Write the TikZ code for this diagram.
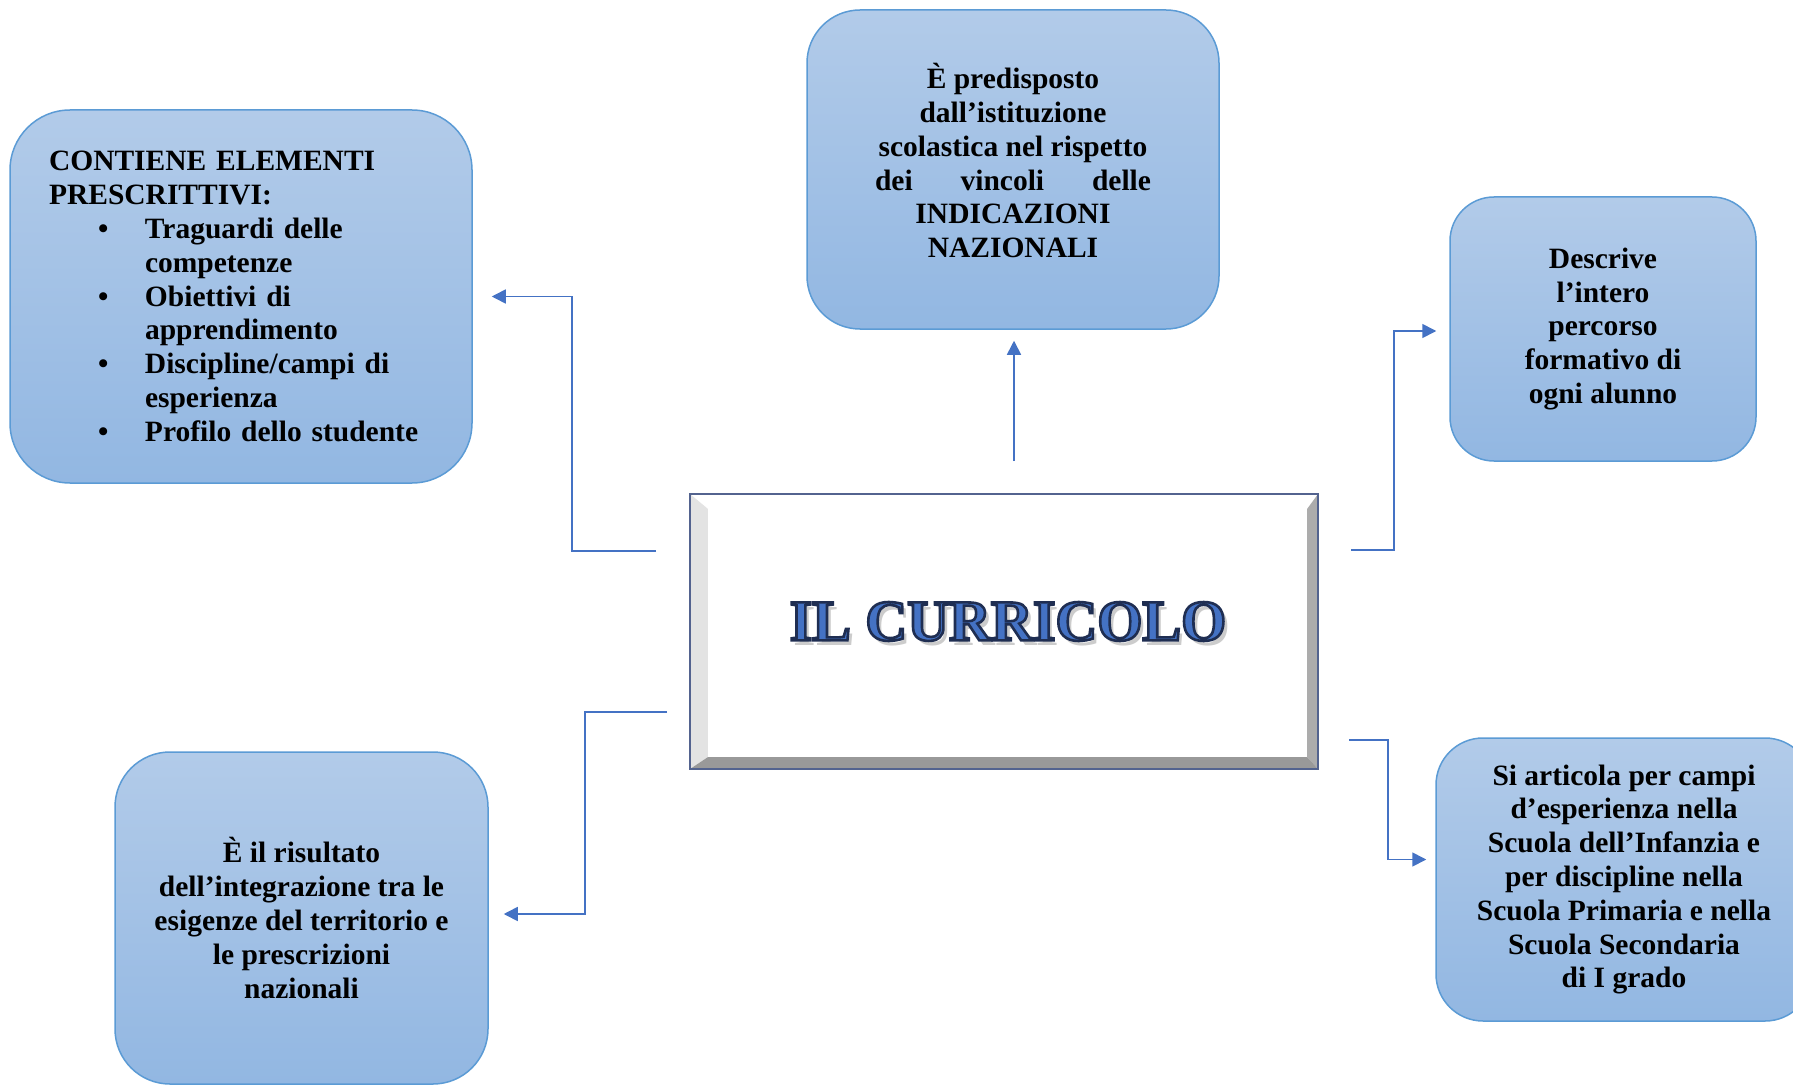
\documentclass[tikz,border=0pt]{standalone}
\usepackage{fontspec}
\setmainfont{Liberation Serif}
\usetikzlibrary{arrows.meta, positioning, calc}
\definecolor{boxtop}{HTML}{B2CBE9}
\definecolor{boxbot}{HTML}{92B7E2}
\definecolor{boxline}{HTML}{5B9BD5}
\definecolor{linkblue}{HTML}{4472C4}
\definecolor{headblue}{HTML}{4472C4}
\definecolor{frameline}{HTML}{53638F}
\newcommand{\voce}[1]{\hspace*{49pt}\makebox[47pt][l]{\textbullet}#1}
\newcommand{\segue}[1]{\hspace*{96pt}#1}
\newcommand{\contorno}[1]{\special{pdf:literal q 2 Tr 2.6 w 0.12 0.18 0.32 RG}#1\special{pdf:literal Q}}

\begin{document}
\begin{tikzpicture}[x=1pt, y=-1pt,
	idea/.style={draw=boxline, line width=1.5pt, top color=boxtop, bottom color=boxbot,
		font=\fontsize{29.5}{33.8}\selectfont\bfseries, align=center, inner sep=0pt},
	link/.style={draw=linkblue, line width=1.6pt, -{Triangle[length=14pt,width=14pt]}},
	head/.style={font=\fontsize{58}{60}\selectfont\bfseries, inner sep=0pt}]
		\useasboundingbox (0,0) rectangle (1793,1086);
		\clip (0,0) rectangle (1793,1086);
		\fill[white] (0,0) rectangle (1793,1086);

		% the five boxes
		\node[idea, rounded corners=60pt, minimum width=462, minimum height=373,
			text width=384, inner xsep=39pt, align=left] (elementi) at (241,296.5)
			{CONTIENE ELEMENTI\\PRESCRITTIVI:\\
			\voce{Traguardi delle}\\\segue{competenze}\\
			\voce{Obiettivi di}\\\segue{apprendimento}\\
			\voce{Discipline/campi di}\\\segue{esperienza}\\
			\voce{Profilo dello studente}};
		\node[idea, rounded corners=53pt, minimum width=412, minimum height=319] (predisposto) at (1013,169.5)
			{È predisposto\\dall’istituzione\\scolastica nel rispetto\\
			\makebox[276pt]{dei\hfill vincoli\hfill delle}\\INDICAZIONI\\NAZIONALI\\[-16pt]\mbox{}};
		\node[idea, rounded corners=44pt, minimum width=306, minimum height=264] (percorso) at (1603,329)
			{Descrive\\l’intero\\percorso\\formativo di\\ogni alunno};
		\node[idea, rounded corners=47pt, minimum width=376, minimum height=283] (articola) at (1624,879.5)
			{Si articola per campi\\d’esperienza nella\\Scuola dell’Infanzia e\\per discipline nella\\
			Scuola Primaria e nella\\Scuola Secondaria\\di I grado};
		\node[idea, rounded corners=55pt, minimum width=373, minimum height=332] (risultato) at (301.5,918)
			{È il risultato\\dell’integrazione tra le\\esigenze del territorio e\\le prescrizioni\\nazionali};

		% central bevelled frame
		\node[minimum width=628, minimum height=275, inner sep=0pt] (curricolo) at (1004,631.5) {};
		\fill[white] (curricolo.north west) rectangle (curricolo.south east);
		\fill[gray!22] (curricolo.north west) -- (curricolo.south west) -- ($(curricolo.south west)+(18,-12)$) -- ($(curricolo.north west)+(18,15)$) -- cycle;
		\fill[gray!65] (curricolo.north east) -- (curricolo.south east) -- ($(curricolo.south east)+(-11,-12)$) -- ($(curricolo.north east)+(-11,15)$) -- cycle;
		\fill[gray!80] (curricolo.south west) -- (curricolo.south east) -- ($(curricolo.south east)+(-11,-12)$) -- ($(curricolo.south west)+(18,-12)$) -- cycle;
		\draw[frameline, line width=2.2pt] (curricolo.north west) rectangle (curricolo.south east);
		\node[head, text=black!20] (ombra) at ($(curricolo.center)+(8,-5)$) {IL CURRICOLO};
		\node[head, text=headblue] (titolo) at ($(curricolo.center)+(4,-10)$) {\contorno{IL CURRICOLO}};

		% connectors
		\coordinate (s1) at (656,551);
		\coordinate (s2) at (1014,461);
		\coordinate (s3) at (1351,550);
		\coordinate (s4) at (1349,740);
		\coordinate (s5) at (667,712);
		\coordinate (t2) at ([yshift=-11pt]predisposto.south);
		\draw[link] (s1) -- ++(-84,0) |- ([xshift=19pt]elementi.east);
		\draw[link] (s2) -- (s2 |- t2);
		\draw[link] (s3) -- ++(43,0) |- ([xshift=-13pt,yshift=-2pt]percorso.west);
		\draw[link] (s4) -- ++(39,0) |- ([xshift=-9pt,yshift=20pt]articola.west);
		\draw[link] (s5) -- ++(-82,0) |- ([xshift=15pt,yshift=4pt]risultato.east);
\end{tikzpicture}
\end{document}
